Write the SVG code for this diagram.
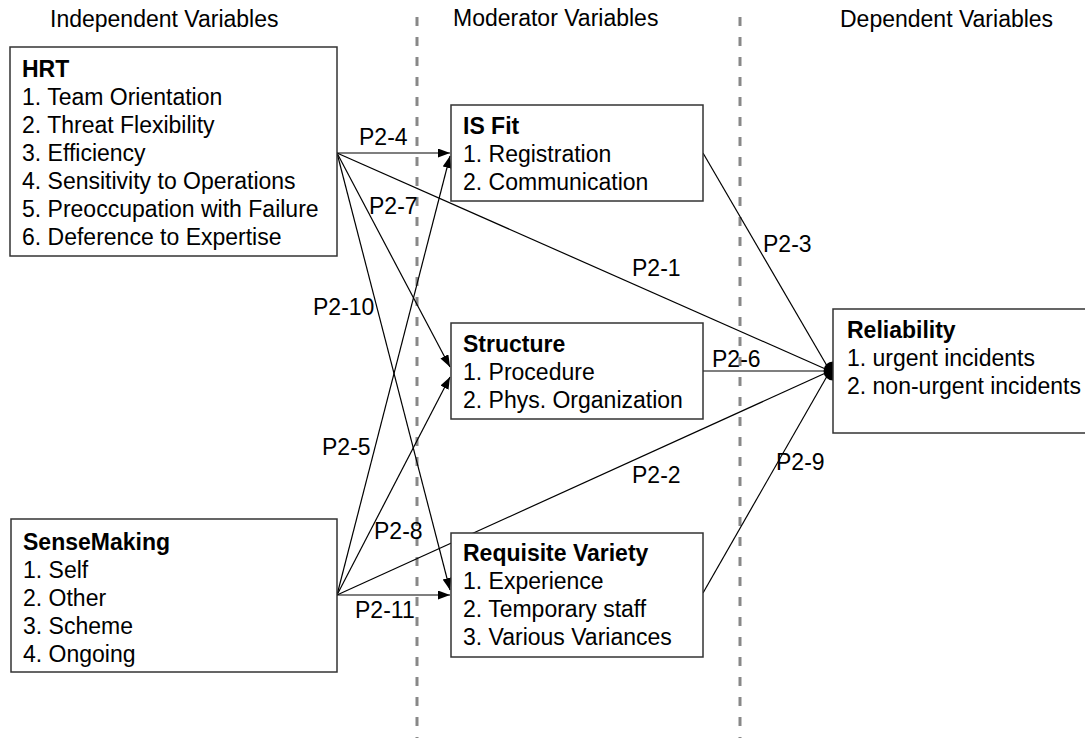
<svg xmlns="http://www.w3.org/2000/svg" width="1085" height="738" viewBox="0 0 1085 738">
  <style>
    text { font-family: "Liberation Sans", Arial, sans-serif; font-size: 23px; fill: #000; }
    .head { font-weight: bold; }
    .box { fill: #fff; stroke: #333; stroke-width: 1.5; }
    .divider { stroke: #888; stroke-width: 3; stroke-dasharray: 9 11; fill: none; }
    .link { stroke: #000; stroke-width: 1.2; fill: none; }
    .arrow { marker-end: url(#tip); }
  </style>
  <defs>
    <marker id="tip" markerUnits="userSpaceOnUse" markerWidth="14" markerHeight="10" refX="12" refY="4.5" orient="auto">
      <path d="M0,0 L12,4.5 L0,9 Z" fill="#000"/>
    </marker>
  </defs>

  <rect width="1085" height="738" fill="#fff"/>

  <!-- column dividers -->
  <g id="dividers">
    <line class="divider" x1="417" y1="17" x2="417" y2="738"/>
    <line class="divider" x1="740" y1="17" x2="740" y2="738"/>
  </g>

  <!-- column headings -->
  <g id="column-titles">
    <text x="50" y="27">Independent Variables</text>
    <text x="453" y="26">Moderator Variables</text>
    <text x="840" y="27">Dependent Variables</text>
  </g>

  <!-- connectors -->
  <g id="connectors">
    <circle cx="833" cy="371" r="9.5" fill="#000"/>
    <!-- from HRT -->
    <line class="link arrow" x1="337" y1="153" x2="450" y2="153"/>
    <line class="link" x1="337" y1="153" x2="830" y2="371"/>
    <line class="link arrow" x1="337" y1="153" x2="450" y2="367"/>
    <line class="link arrow" x1="337" y1="153" x2="450" y2="590"/>
    <!-- from SenseMaking -->
    <line class="link arrow" x1="337" y1="595" x2="450" y2="156"/>
    <line class="link arrow" x1="337" y1="595" x2="450" y2="377"/>
    <line class="link arrow" x1="337" y1="595" x2="450" y2="595"/>
    <line class="link" x1="337" y1="595" x2="830" y2="371"/>
    <!-- moderators to reliability -->
    <line class="link" x1="703" y1="153" x2="830" y2="371"/>
    <line class="link" x1="703" y1="371" x2="830" y2="371"/>
    <line class="link" x1="703" y1="593" x2="830" y2="371"/>

    <text x="359" y="145">P2-4</text>
    <text x="369" y="214">P2-7</text>
    <text x="632" y="276">P2-1</text>
    <text x="763" y="252">P2-3</text>
    <text x="712" y="367">P2-6</text>
    <text x="313" y="315">P2-10</text>
    <text x="322" y="455">P2-5</text>
    <text x="374" y="539">P2-8</text>
    <text x="632" y="483">P2-2</text>
    <text x="355" y="618">P2-11</text>
    <text x="776" y="470">P2-9</text>
  </g>

  <g id="hrt">
    <rect class="box" x="10" y="47" width="327" height="209"/>
    <text class="head" x="22" y="77">HRT</text>
    <text x="22" y="104.5">1. Team Orientation</text>
    <text x="22" y="132.5">2. Threat Flexibility</text>
    <text x="22" y="160.5">3. Efficiency</text>
    <text x="22" y="188.5">4. Sensitivity to Operations</text>
    <text x="22" y="216.5">5. Preoccupation with Failure</text>
    <text x="22" y="244.5">6. Deference to Expertise</text>
  </g>

  <g id="sensemaking">
    <rect class="box" x="11" y="519" width="326" height="153"/>
    <text class="head" x="23" y="550">SenseMaking</text>
    <text x="23" y="578">1. Self</text>
    <text x="23" y="606">2. Other</text>
    <text x="23" y="634">3. Scheme</text>
    <text x="23" y="662">4. Ongoing</text>
  </g>

  <g id="is-fit">
    <rect class="box" x="451" y="105" width="252" height="96"/>
    <text class="head" x="463" y="134">IS Fit</text>
    <text x="463" y="162">1. Registration</text>
    <text x="463" y="190">2. Communication</text>
  </g>

  <g id="structure">
    <rect class="box" x="451" y="323" width="252" height="96"/>
    <text class="head" x="463" y="352">Structure</text>
    <text x="463" y="380">1. Procedure</text>
    <text x="463" y="408">2. Phys. Organization</text>
  </g>

  <g id="requisite-variety">
    <rect class="box" x="451" y="533" width="252" height="124"/>
    <text class="head" x="463" y="561">Requisite Variety</text>
    <text x="463" y="589">1. Experience</text>
    <text x="463" y="617">2. Temporary staff</text>
    <text x="463" y="645">3. Various Variances</text>
  </g>

  <g id="reliability">
    <rect class="box" x="833" y="309" width="260" height="124"/>
    <text class="head" x="847" y="338">Reliability</text>
    <text x="847" y="366">1. urgent incidents</text>
    <text x="847" y="394">2. non-urgent incidents</text>
  </g>
</svg>
